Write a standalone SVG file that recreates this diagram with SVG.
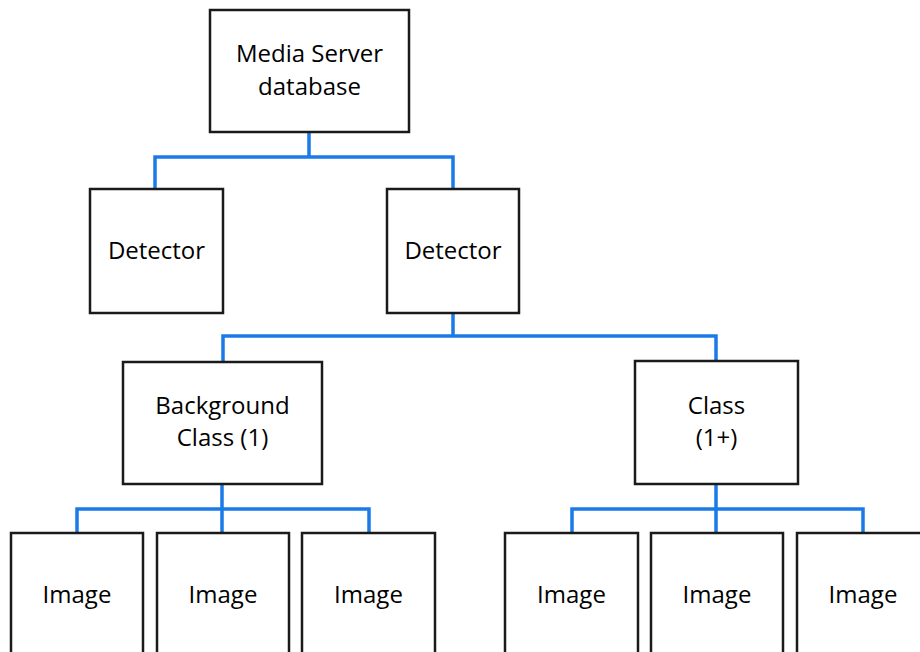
<svg xmlns="http://www.w3.org/2000/svg" width="920" height="652" viewBox="0 0 920 652">
<style>
.box{fill:#fff;stroke:#1a1a1a;stroke-width:2.5}
.lbl{font-family:"Open Sans","Liberation Sans",Arial,sans-serif;font-size:24px;fill:#000;text-anchor:middle}
.con{fill:none;stroke:#1a7be8;stroke-width:3.5;stroke-linejoin:miter;stroke-linecap:butt}
</style>
<rect width="920" height="652" fill="#fff"/>
<g id="connectors">
<path class="con" d="M309,132 V157 M155,189 V157 H453 V189"/>
<path class="con" d="M453,313 V336 M223,362 V336 H716 V361"/>
<path class="con" d="M222,484 V533 M77,533 V509 H369 V533"/>
<path class="con" d="M716,484 V533 M572,533 V509 H863 V533"/>
</g>
<g id="root"><rect class="box" x="210" y="10" width="199" height="122"/><text class="lbl" x="309.5" y="62">Media Server</text><text class="lbl" x="309.5" y="95">database</text></g>
<g id="detector1"><rect class="box" x="90" y="189" width="133" height="124"/><text class="lbl" x="156.5" y="259">Detector</text></g>
<g id="detector2"><rect class="box" x="387" y="189" width="132" height="124"/><text class="lbl" x="453" y="259">Detector</text></g>
<g id="background"><rect class="box" x="123" y="362" width="199" height="122"/><text class="lbl" x="222.5" y="414">Background</text><text class="lbl" x="222.5" y="446">Class (1)</text></g>
<g id="class"><rect class="box" x="635" y="361" width="163" height="123"/><text class="lbl" x="716.5" y="414">Class</text><text class="lbl" x="716.5" y="446">(1+)</text></g>
<g id="image1"><rect class="box" x="11" y="533" width="132" height="130"/><text class="lbl" x="77" y="603">Image</text></g>
<g id="image2"><rect class="box" x="157" y="533" width="132" height="130"/><text class="lbl" x="223" y="603">Image</text></g>
<g id="image3"><rect class="box" x="302" y="533" width="133" height="130"/><text class="lbl" x="368.5" y="603">Image</text></g>
<g id="image4"><rect class="box" x="505" y="533" width="133" height="130"/><text class="lbl" x="571.5" y="603">Image</text></g>
<g id="image5"><rect class="box" x="651" y="533" width="132" height="130"/><text class="lbl" x="717" y="603">Image</text></g>
<g id="image6"><rect class="box" x="797" y="533" width="132" height="130"/><text class="lbl" x="863" y="603">Image</text></g>
</svg>
